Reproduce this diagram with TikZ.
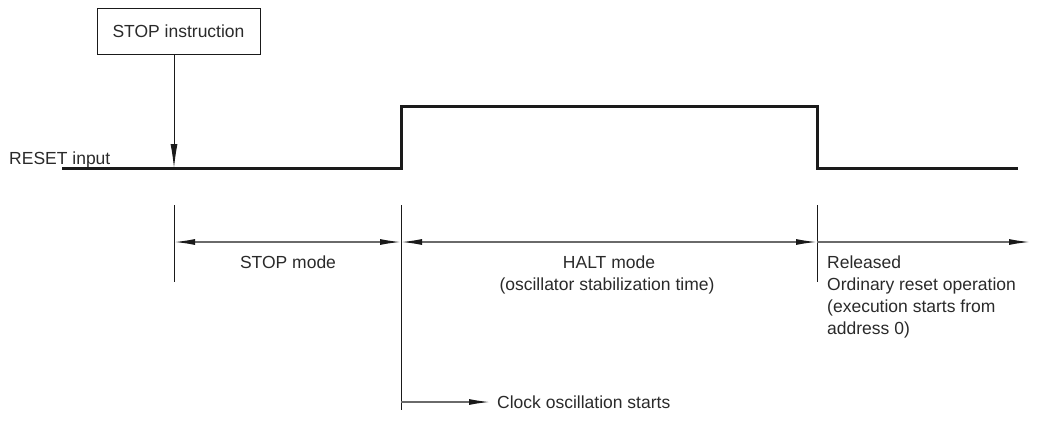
\documentclass[tikz,border=0pt]{standalone}
\usepackage{fontspec}
\setmainfont{Liberation Sans}
\usetikzlibrary{arrows.meta}
\definecolor{txt}{HTML}{2A2A2A}
\definecolor{lin}{HTML}{1A1A1A}
\definecolor{dimc}{HTML}{6A6A6A}
\begin{document}
\begin{tikzpicture}[x=1pt,y=-1pt,
  font=\fontsize{17.5}{22}\selectfont, text=txt,
  sig/.style={line width=3pt, draw=lin, line join=miter},
  tickline/.style={line width=1pt, draw=lin},
  dimtip/.tip={Latex[length=21pt,width=6pt,color=lin]},
  dimline/.style={line width=1.4pt, draw=dimc},
  lbl/.style={inner sep=0pt, anchor=base}]
\useasboundingbox (0,0) rectangle (1040,436);
% box and arrow
\node[draw=lin, line width=0.8pt, minimum width=163pt, minimum height=46pt, inner sep=0pt] (stopbox) at (178.5,31) {STOP instruction};
\coordinate (hit) at (174,168);
\draw[line width=0.9pt, draw=lin, -{Latex[length=24pt,width=7pt]}] (stopbox.south -| hit) -- (hit);
% signal
\node[lbl, anchor=base west] (reset) at (9,164) {RESET input};
\coordinate (s0) at (62,168);
\coordinate (s1) at (401,168);
\coordinate (s2) at (401,106);
\coordinate (s3) at (817,106);
\coordinate (s4) at (817,168);
\coordinate (s5) at (1018,168);
\draw[sig] (s0) -- (s1) -- (s2) -- (s3) -- (s4) -- (s5);
% ticks
\coordinate (t1a) at (174,205); \coordinate (t1b) at (174,282);
\coordinate (t2a) at (401,205); \coordinate (t2b) at (401,410);
\coordinate (t3a) at (817,205); \coordinate (t3b) at (817,282);
\draw[tickline] (t1a) -- (t1b);
\draw[tickline] (t2a) -- (t2b);
\draw[tickline] (t3a) -- (t3b);
% dimension lines
\coordinate (d1) at (174,242);
\coordinate (d2) at (401,242);
\coordinate (d3) at (817,242);
\coordinate (d4) at (1030,242);
\draw[dimline, dimtip-dimtip] (d1) -- (d2);
\draw[dimline, dimtip-dimtip] (d2) -- (d3);
\draw[dimline, -dimtip] (d3) -- (d4);
% labels
\node[lbl] (stopmode) at (288,268) {STOP mode};
\node[lbl] (halt) at (609,268) {HALT mode};
\node[lbl] (osc) at (607,290) {(oscillator stabilization time)};
\node[lbl, anchor=base west] (rel1) at (827,268) {Released};
\node[lbl, anchor=base west] (rel2) at (827,290) {Ordinary reset operation};
\node[lbl, anchor=base west] (rel3) at (827,312) {(execution starts from};
\node[lbl, anchor=base west] (rel4) at (827,334) {address 0)};
% clock
\coordinate (c0) at (401,402);
\coordinate (c1) at (490,402);
\node[lbl, anchor=west] (clock) at (497,402) {Clock oscillation starts};
\draw[dimline, -dimtip] (c0) -- (c1);
\end{tikzpicture}
\end{document}
